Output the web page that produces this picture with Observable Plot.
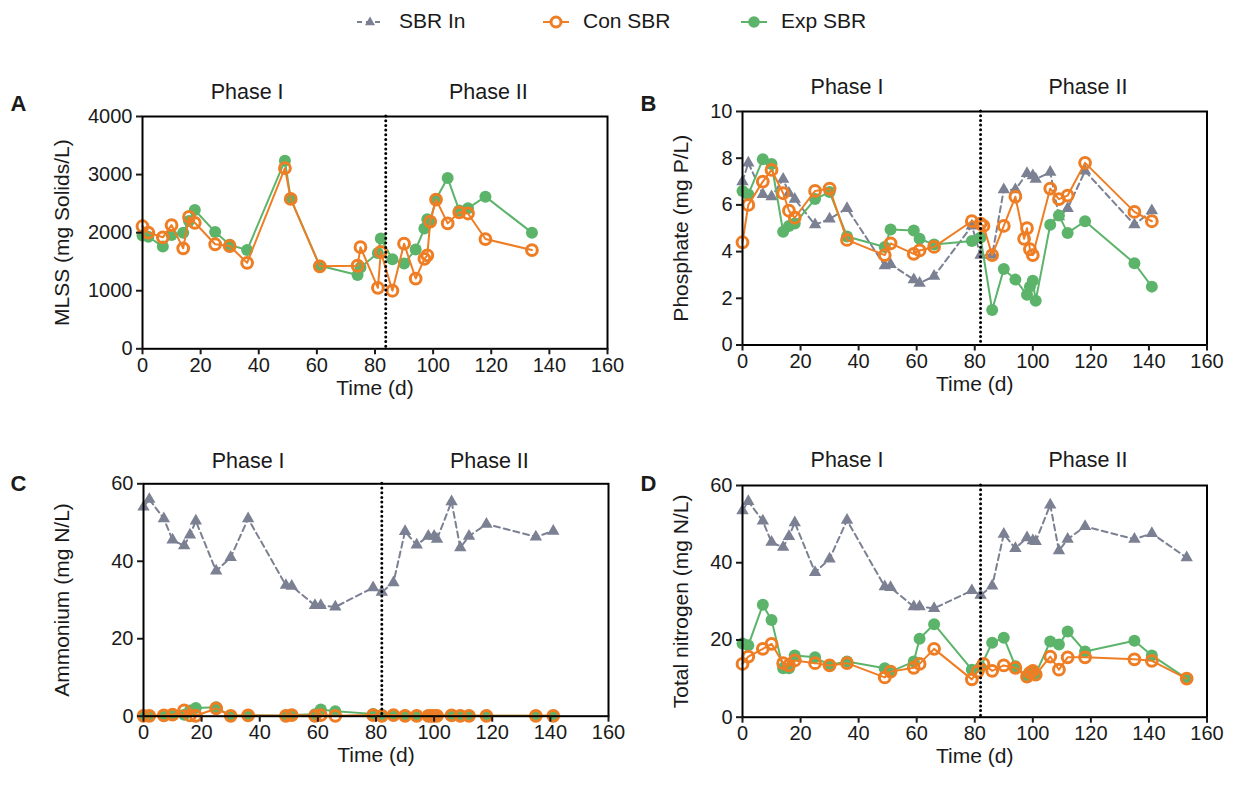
<!DOCTYPE html>
<html><head><meta charset="utf-8">
<script src="https://cdn.jsdelivr.net/npm/d3@7"></script>
<script src="https://cdn.jsdelivr.net/npm/@observablehq/plot@0.6"></script>
<style>
body{margin:0;background:#fff;font-family:"Liberation Sans",Arial,Helvetica,sans-serif;}
#fig{position:relative;width:1235px;height:789px;overflow:hidden;background:#fff}
.panel{position:absolute}
.legsym{position:absolute;top:12px}
.legtxt{position:absolute;top:9px;font-size:21px;line-height:24px;color:#1a1a1a;white-space:nowrap}
</style></head><body><div id="fig"></div>
<script>
// ---------- Legend ----------
const seriesNames = ["SBR In", "Con SBR", "Exp SBR"];

// ---------- Panel A: MLSS (mg Solids/L) ----------
const mlssDays = [0,2,7,10,14,16,18,25,30,36,49,51,61,74,75,81,82,86,90,94,97,98,99,101,105,109,112,118,134];
const mlssCon  = [2110,2000,1920,2130,1730,2270,2170,1800,1770,1480,3110,2580,1420,1430,1750,1050,1670,1000,1810,1210,1550,1610,2190,2570,2160,2350,2330,1890,1700];
const mlssExp  = [1950,1930,1760,1960,2000,2200,2390,2010,1790,1700,3240,2580,1430,1270,1400,1650,1900,1540,1470,1710,2070,2230,2200,2580,2940,2380,2420,2620,2000];

// ---------- Panel B: Phosphate (mg P/L) ----------
const phosInDays  = [0,2,7,10,14,16,18,25,30,36,49,51,59,61,66,79,82,86,90,94,98,100,101,106,109,112,118,135,141];
const phosIn      = [7.0,7.8,6.45,6.35,7.1,6.5,6.25,5.15,5.4,5.85,3.4,3.45,2.8,2.65,2.95,5.1,3.85,3.85,6.65,6.65,7.35,7.25,7.1,7.4,5.5,5.85,7.45,5.15,5.75];
const phosConDays = [0,2,7,10,14,16,18,25,30,36,49,51,59,61,66,79,82,83,86,90,94,97,98,99,100,106,109,112,118,135,141];
const phosCon     = [4.4,6.0,7.0,7.5,6.5,5.75,5.45,6.6,6.7,4.5,3.85,4.35,3.9,4.05,4.2,5.3,5.2,5.1,3.85,5.1,6.35,4.55,5.0,4.1,3.85,6.7,6.25,6.4,7.8,5.7,5.3];
const phosExpDays = [0,2,7,10,14,16,18,25,30,36,49,51,59,61,66,79,82,86,90,94,98,99,100,101,106,109,112,118,135,141];
const phosExp     = [6.6,6.45,7.95,7.75,4.85,5.1,5.2,6.25,6.55,4.65,4.2,4.95,4.9,4.55,4.3,4.45,4.6,1.5,3.25,2.8,2.15,2.5,2.75,1.9,5.15,5.55,4.8,5.3,3.5,2.5];

// ---------- Panel C: Ammonium (mg N/L) ----------
const ammInDays = [0,2,7,10,14,16,18,25,30,36,49,51,59,61,66,79,82,86,90,94,98,100,101,106,109,112,118,135,141];
const ammIn     = [54,56,51,45.5,44,46.8,50.4,37.5,41,51,33.8,33.6,28.6,28.6,28.2,33.2,32,34.5,47.7,44.2,46.5,46.5,45.7,55.4,43.5,46.5,49.6,46.3,47.8];
const ammDays   = [0,2,7,10,14,16,18,25,30,36,49,51,59,61,66,79,82,86,90,94,98,99,100,101,106,109,112,118,135,141];
const ammCon    = [0.1,0.1,0.2,0.4,1.5,0.2,0.1,2.0,0.1,0.2,0.1,0.3,0.1,0.3,0.1,0.3,0.1,0.3,0.1,0.1,0.1,0.1,0.1,0.1,0.2,0.1,0.1,0.1,0.1,0.1];
const ammExp    = [0,0.1,0.2,0.3,0.4,1.5,2.1,2.3,0.1,0.2,0.2,0.3,0.5,1.7,1.3,0.6,0.3,0.3,0.2,0.1,0.1,0.1,0.1,0.1,0.3,0.2,0.1,0.1,0.1,0.1];

// ---------- Panel D: Total nitrogen (mg N/L) ----------
const tnInDays  = [0,2,7,10,14,16,18,25,30,36,49,51,59,61,66,79,82,86,90,94,98,100,101,106,109,112,118,135,141,153];
const tnIn      = [53.5,55.9,50.8,45.3,44,46.8,50.4,37.5,41,51,33.8,33.6,28.6,28.6,28.2,32.8,31.6,34,47.4,43.7,46.5,45.7,45.5,55,43.1,46.1,49.4,46.1,47.6,41.3];
const tnConDays = [0,2,7,10,14,16,18,25,30,36,49,51,59,61,66,79,81,83,86,90,94,98,99,100,101,106,109,112,118,135,141,153];
const tnCon     = [13.8,15.7,17.7,19.0,14.0,13.4,14.7,14.0,13.4,14.0,10.3,11.8,12.8,13.8,17.7,9.8,11.8,13.8,12.0,13.4,12.8,10.5,11.5,12.0,11.0,15.7,12.3,15.5,15.5,15.0,14.6,10.0];
const tnExpDays = [0,2,7,10,14,16,18,25,30,36,49,51,59,61,66,79,82,86,90,94,98,99,100,101,106,109,112,118,135,141,153];
const tnExp     = [19.1,18.6,29.1,25.2,12.7,12.7,16.0,15.5,13.5,14.4,12.7,11.8,14.4,20.3,24.1,12.3,13.0,19.3,20.6,13.2,10.5,11.5,12.0,11.2,19.6,18.8,22.2,17.0,19.8,16.0,10.0];

// ---------- Axis ticks & labels ----------
const xTicks = [0,20,40,60,80,100,120,140,160];
const mlssTicks = [0,1000,2000,3000,4000];
const phosTicks = [0,2,4,6,8,10];
const nTicks = [0,20,40,60];
const phaseNames = ["Phase I", "Phase II"];
const phaseDays = [36, 119];

const COL = {in: "#7b8093", con: "#ee7d24", exp: "#5cb46b"};
const FONT = '"Liberation Sans", Arial, Helvetica, sans-serif';
const rows = (days, vals) => days.map((d, i) => ({day: d, value: vals[i]}));

function panel(o) {
  const marks = [];
  if (o.inflow) {
    marks.push(Plot.line(o.inflow, {x: "day", y: "value", stroke: COL.in, strokeWidth: 2, strokeDasharray: "6,4"}));
    marks.push(Plot.dot(o.inflow, {x: "day", y: "value", symbol: "triangle", fill: COL.in, r: 4.6}));
  }
  marks.push(Plot.line(o.exp, {x: "day", y: "value", stroke: COL.exp, strokeWidth: 2}));
  marks.push(Plot.dot(o.exp, {x: "day", y: "value", fill: COL.exp, r: 6}));
  marks.push(Plot.line(o.con, {x: "day", y: "value", stroke: COL.con, strokeWidth: 2}));
  marks.push(Plot.dot(o.con, {x: "day", y: "value", stroke: COL.con, strokeWidth: 3, fill: "none", r: 5.4}));
  marks.push(Plot.ruleX([o.vline], {stroke: "#000", strokeWidth: 3, strokeDasharray: "0,4.7", strokeLinecap: "round"}));
  marks.push(Plot.frame({stroke: "#000", strokeWidth: 2}));
  marks.push(Plot.axisX({ticks: xTicks, tickSize: 6, tickPadding: 3, strokeWidth: 2, label: null, fontSize: 20, tickFormat: d => String(d)}));
  marks.push(Plot.axisY({ticks: o.yTicks, tickSize: 6, tickPadding: 4, strokeWidth: 2, label: null, fontSize: 20, tickFormat: d => String(d)}));
  marks.push(Plot.text(["Time (d)"], {frameAnchor: "bottom", dy: o.xTitleDy, textAnchor: "middle", lineAnchor: "middle", fontSize: 21}));
  marks.push(Plot.text([o.ylabel], {frameAnchor: "left", dx: o.yTitleDx, rotate: -90, textAnchor: "middle", lineAnchor: "middle", fontSize: 21}));
  marks.push(Plot.text(phaseNames.map((p, i) => ({p, d: phaseDays[i]})), {x: "d", text: "p", frameAnchor: "top", dy: o.phaseDy, textAnchor: "middle", lineAnchor: "middle", fontSize: 21.5}));
  marks.push(Plot.text([o.letter], {frameAnchor: "top-left", dx: o.letterDx, dy: o.letterDy, textAnchor: "middle", lineAnchor: "middle", fontSize: 22, fontWeight: "bold"}));
  const svg = Plot.plot({
    width: o.width, height: o.height,
    marginLeft: o.ml, marginRight: o.mr, marginTop: o.mt, marginBottom: o.mb,
    x: {domain: [0, 160], label: null},
    y: {domain: o.yDomain, label: null},
    style: {fontFamily: FONT, fontSize: "20px", color: "#1a1a1a", background: "transparent", overflow: "visible"},
    marks
  });
  const div = document.createElement("div");
  div.className = "panel";
  div.style.left = o.left + "px";
  div.style.top = o.top + "px";
  div.appendChild(svg);
  document.getElementById("fig").appendChild(div);
}

// Panel A
panel({left: 0, top: 60, width: 640, height: 340, ml: 142, mr: 33, mt: 56, mb: 51.7,
  yDomain: [0, 4000], yTicks: mlssTicks, ylabel: "MLSS (mg Solids/L)",
  con: rows(mlssDays, mlssCon), exp: rows(mlssDays, mlssExp), vline: 83.7,
  xTitleDy: 39, yTitleDx: -80, phaseDy: -24, letter: "A", letterDx: -124, letterDy: -13});
// Panel B
panel({left: 640, top: 60, width: 595, height: 340, ml: 102, mr: 28.5, mt: 51, mb: 55.5,
  yDomain: [0, 10], yTicks: phosTicks, ylabel: "Phosphate (mg P/L)",
  inflow: rows(phosInDays, phosIn), con: rows(phosConDays, phosCon), exp: rows(phosExpDays, phosExp), vline: 82,
  xTitleDy: 39, yTitleDx: -61, phaseDy: -24, letter: "B", letterDx: -94, letterDy: -8});
// Panel C
panel({left: 0, top: 420, width: 640, height: 369, ml: 143, mr: 32, mt: 63.3, mb: 73.3,
  yDomain: [0, 60], yTicks: nTicks, ylabel: "Ammonium (mg N/L)",
  inflow: rows(ammInDays, ammIn), con: rows(ammDays, ammCon), exp: rows(ammDays, ammExp), vline: 82,
  xTitleDy: 39, yTitleDx: -81, phaseDy: -23, letter: "C", letterDx: -125, letterDy: 0});
// Panel D
panel({left: 640, top: 420, width: 595, height: 369, ml: 102, mr: 28.5, mt: 65, mb: 72.3,
  yDomain: [0, 60], yTicks: nTicks, ylabel: "Total nitrogen (mg N/L)",
  inflow: rows(tnInDays, tnIn), con: rows(tnConDays, tnCon), exp: rows(tnExpDays, tnExp), vline: 82,
  xTitleDy: 39, yTitleDx: -61, phaseDy: -25, letter: "D", letterDx: -94, letterDy: -2});

// Legend (HTML)
const fig = document.getElementById("fig");
const legPos = [{sym: 356, txt: 399}, {sym: 542, txt: 583}, {sym: 740, txt: 781}];
seriesNames.forEach((name, i) => {
  const ns = "http://www.w3.org/2000/svg";
  const s = document.createElementNS(ns, "svg");
  s.setAttribute("width", 28); s.setAttribute("height", 20);
  s.setAttribute("class", "legsym");
  s.style.left = legPos[i].sym + "px";
  const col = [COL.in, COL.con, COL.exp][i];
  let inner = "";
  if (i === 0) {
    inner = `<line x1="1" y1="10" x2="27" y2="10" stroke="${col}" stroke-width="2" stroke-dasharray="5,4"/>` +
            `<path d="M14,4.5 L19,13.2 L9,13.2 Z" fill="${col}"/>`;
  } else if (i === 1) {
    inner = `<line x1="1" y1="10" x2="27" y2="10" stroke="${col}" stroke-width="2"/>` +
            `<circle cx="14" cy="10" r="5" fill="#fff" stroke="${col}" stroke-width="3"/>`;
  } else {
    inner = `<line x1="1" y1="10" x2="27" y2="10" stroke="${col}" stroke-width="2"/>` +
            `<circle cx="14" cy="10" r="5.8" fill="${col}"/>`;
  }
  s.innerHTML = inner;
  fig.appendChild(s);
  const t = document.createElement("div");
  t.className = "legtxt";
  t.style.left = legPos[i].txt + "px";
  t.textContent = name;
  fig.appendChild(t);
});
</script></body></html>
